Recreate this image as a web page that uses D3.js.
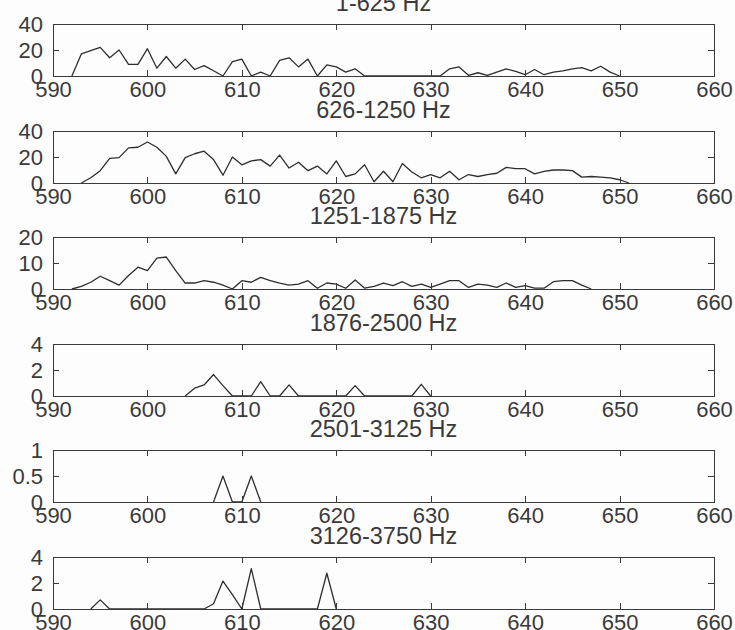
<!DOCTYPE html>
<html>
<head>
<meta charset="utf-8">
<script src="https://cdn.jsdelivr.net/npm/d3@7/dist/d3.min.js"></script>
<style>
  html, body { margin: 0; padding: 0; background: #fdfdfd; }
  svg { display: block; }
  .axis text { font-family: "Liberation Sans", Arial, sans-serif; font-size: 22px; fill: #3a3a3a; }
  .axis path, .axis line { stroke: #3a3a3a; stroke-width: 1; shape-rendering: crispEdges; }
  .title { font-family: "Liberation Sans", Arial, sans-serif; font-size: 23.5px; fill: #3a3a3a; }
  .trace { fill: none; stroke: #2e2e2e; stroke-width: 1.3; stroke-linejoin: round; }
</style>
</head>
<body>
<div id="chart"></div>
<script>
'use strict';

// x axis (shared by all panels)
var xDomain = [590, 660];
var xTicks = [590, 600, 610, 620, 630, 640, 650, 660];

// panel titles, y ranges and y ticks
var bandTitles = ['1-625 Hz', '626-1250 Hz', '1251-1875 Hz', '1876-2500 Hz', '2501-3125 Hz', '3126-3750 Hz'];
var bandYMax = [40, 40, 20, 4, 1, 4];
var bandYTicks = [[0, 20, 40], [0, 20, 40], [0, 10, 20], [0, 2, 4], [0, 0.5, 1], [0, 2, 4]];

// first x value of each series (one value per unit step after that)
var bandStart = [592, 593, 592, 604, 607, 594];

var band1 = [0, 17, 19.5, 22, 14, 20, 9, 9, 21, 6, 15, 6, 13, 5, 8, 4, 0, 11, 13, 0, 3, 0, 12, 14, 7, 13, 0, 8.5, 7, 3, 5.5, 0,
  0, 0, 0, 0, 0, 0, 0, 0, 5.5, 7, 0.5, 2.5, 0.5, 3, 5.5, 3.5, 1, 5, 1, 3, 4, 5.5, 6.5, 4, 7.5, 3, 0];
var band2 = [0, 4, 9.5, 19, 19.5, 27, 27.5, 31.5, 27.5, 20.5, 7, 19.5, 22.5, 24.5, 18, 6, 20, 14, 17, 18, 13, 21.5, 11.5, 16, 9.5, 13,
  7, 17, 5, 7, 14, 1, 9, 1, 15, 8.5, 4, 6.5, 4, 9, 2.5, 6.5, 5, 6.5, 7.5, 12, 11, 11, 7, 9, 10, 10, 9.5, 4.5, 5, 4.5, 4, 2.5, 0];
var band3 = [0, 1, 2.6, 4.9, 3.2, 1.5, 5.2, 8.4, 7.1, 11.9, 12.3, 7.1, 2.3, 2.3, 3.2, 2.6, 1.5, 0, 3.2, 2.6, 4.5, 3.2, 2.3, 1.5,
  1.9, 3.2, 0.3, 2.3, 1.9, 0.3, 3.5, 0.3, 1, 2.3, 1.3, 2.8, 1, 1.9, 0.6, 1.9, 3.2, 3.2, 0.6, 1.9, 1.5, 0.6, 2.3, 0.6, 1.3,
  0.3, 0.3, 2.8, 3.2, 3.2, 1.5, 0];
var band4 = [0, 0.6, 0.85, 1.65, 0.8, 0, 0, 0, 1.1, 0, 0, 0.85, 0, 0, 0, 0, 0, 0, 0.8, 0, 0, 0, 0, 0, 0, 0.9, 0];
var band5 = [0, 0.5, 0, 0, 0.5, 0];
var band6 = [0, 0.7, 0, 0, 0, 0, 0, 0, 0, 0, 0, 0, 0, 0.4, 2.15, 1.1, 0, 3.1, 0, 0, 0, 0, 0, 0, 0, 2.75, 0];

var bands = [band1, band2, band3, band4, band5, band6];

var width = 735, height = 630;
var left = 53, right = 714;
var firstTop = 24, panelStep = 106.6, panelH = 52;
var tick = 6;

var svg = d3.select('#chart').append('svg')
  .attr('width', width)
  .attr('height', height);

var x = d3.scaleLinear().domain(xDomain).range([left, right]);

bands.forEach(function(values, i) {
  var top = Math.round(firstTop + i * panelStep);
  var bottom = top + panelH;
  var y = d3.scaleLinear().domain([0, bandYMax[i]]).range([bottom, top]);

  var g = svg.append('g').attr('class', 'panel');

  // trace
  var pts = values.map(function(v, k) { return {x: bandStart[i] + k, v: v}; });
  var line = d3.line()
    .x(function(d) { return x(d.x); })
    .y(function(d) { return y(d.v); });
  g.append('path')
    .datum(pts)
    .attr('class', 'trace')
    .attr('d', line);

  // box with inward ticks, matlab style
  g.append('g').attr('class', 'axis')
    .attr('transform', 'translate(0,' + bottom + ')')
    .call(d3.axisBottom(x).tickValues(xTicks).tickSize(-tick).tickSizeOuter(0).tickFormat(d3.format('d')))
    .selectAll('text')
      .attr('y', 21)
      .attr('dy', 0);

  g.append('g').attr('class', 'axis')
    .attr('transform', 'translate(0,' + top + ')')
    .call(d3.axisTop(x).tickValues(xTicks).tickSize(-tick).tickSizeOuter(0).tickFormat(''));

  g.append('g').attr('class', 'axis')
    .attr('transform', 'translate(' + left + ',0)')
    .call(d3.axisLeft(y).tickValues(bandYTicks[i]).tickSize(-tick).tickSizeOuter(0).tickFormat(d3.format('')))
    .selectAll('text')
      .attr('x', -10)
      .attr('dy', '0.36em');

  g.append('g').attr('class', 'axis')
    .attr('transform', 'translate(' + right + ',0)')
    .call(d3.axisRight(y).tickValues(bandYTicks[i]).tickSize(-tick).tickSizeOuter(0).tickFormat(''));

  g.append('text')
    .attr('class', 'title')
    .attr('x', (left + right) / 2)
    .attr('y', top - 13)
    .attr('text-anchor', 'middle')
    .text(bandTitles[i]);
});
</script>
</body>
</html>
